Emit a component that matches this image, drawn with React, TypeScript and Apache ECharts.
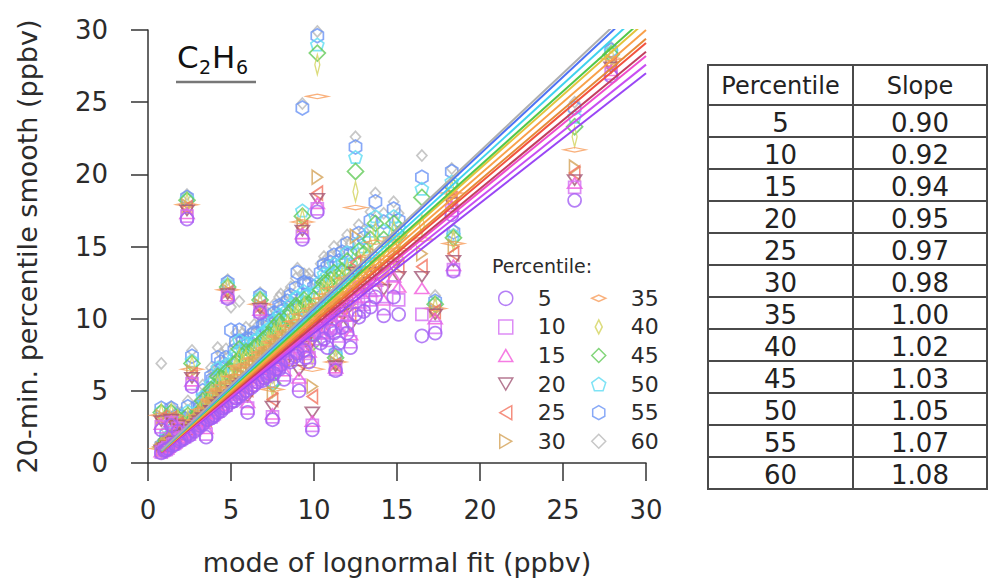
import { useEffect, useRef } from 'react';
import * as echarts from 'echarts';

// ---------- data ----------
const percentiles = ['5', '10', '15', '20', '25', '30', '35', '40', '45', '50', '55', '60'];
const slopes = [0.9, 0.92, 0.94, 0.95, 0.97, 0.98, 1.0, 1.02, 1.03, 1.05, 1.07, 1.08];
const fitStartX = 0.8;
const fitEndX = 30;

// mode of lognormal fit (x) for each sampling window
const siteX = [
  0.8, 0.8, 1.0, 1.2, 1.4, 1.5, 1.8, 1.9, 2.2, 2.35,
  2.5, 2.65, 2.8, 3.0, 3.1, 3.5, 3.6, 3.9, 4.0, 4.2,
  4.5, 4.8, 5.0, 5.3, 5.5, 5.9, 6.0, 6.2, 6.6, 6.75,
  7.0, 7.3, 7.5, 7.7, 8.0, 8.2, 8.4, 9.0, 9.1, 9.3,
  9.5, 9.7, 9.9, 10.0, 10.2, 10.4, 10.8, 11.0, 11.3, 11.5,
  11.7, 12.0, 12.2, 12.5, 13.0, 13.7, 14.2, 14.8, 15.1, 16.5,
  17.3, 18.3, 18.4, 25.7, 27.9,
  1.1, 1.6, 2.0, 2.4, 3.3, 3.8, 4.4, 4.7, 5.2, 5.7,
  6.4, 6.9, 7.2, 7.6, 7.9, 8.6, 8.9, 9.4, 10.6, 11.2,
  12.7, 13.4,
];

// 20-min percentile smooth (y) for each percentile
const p5 = [
  0.7, 2.3, 0.85, 1.0, 2.6, 1.2, 2.2, 1.5, 1.7, 16.9,
  1.9, 5.3, 2.2, 2.4, 2.6, 1.8, 3.0, 3.2, 3.3, 3.5,
  3.8, 11.4, 4.2, 4.5, 4.6, 5.0, 3.5, 5.2, 5.6, 10.4,
  5.9, 6.2, 3.0, 6.5, 6.8, 5.8, 7.1, 7.6, 5.0, 15.5,
  7.3, 7.0, 2.3, 8.9, 17.4, 8.3, 8.0, 9.2, 6.4, 8.3,
  9.4, 9.0, 8.0, 10.3, 10.5, 11.5, 10.2, 11.5, 10.3, 8.8,
  9.0, 17.2, 13.3, 18.2, 26.8,
  0.9, 1.3, 1.6, 2.0, 2.7, 3.1, 3.6, 3.9, 4.3, 4.8,
  5.4, 5.7, 6.0, 6.2, 6.5, 7.0, 7.4, 7.8, 8.6, 9.0,
  10.1, 10.8,
];
const p10 = [
  0.75, 2.5, 0.9, 1.05, 2.8, 1.3, 2.4, 1.6, 1.8, 17.1,
  2.0, 5.5, 2.3, 2.5, 2.7, 2.0, 3.1, 3.3, 3.4, 3.6,
  3.9, 11.5, 4.3, 4.6, 4.8, 5.2, 3.8, 5.4, 5.8, 10.5,
  6.1, 6.4, 3.2, 6.7, 7.0, 6.1, 7.3, 7.9, 5.4, 15.7,
  7.6, 7.3, 2.6, 9.2, 17.6, 8.6, 8.5, 9.5, 6.5, 8.8,
  9.8, 9.5, 8.4, 11.2, 11.0, 12.0, 10.7, 12.2, 11.3, 10.3,
  9.4, 17.5, 13.4, 19.1, 27.0,
  0.95, 1.35, 1.7, 2.1, 2.8, 3.2, 3.8, 4.0, 4.5, 5.0,
  5.6, 5.9, 6.2, 6.5, 6.8, 7.3, 7.7, 8.1, 9.0, 9.4,
  10.6, 11.3,
];
const p15 = [
  0.8, 2.7, 0.95, 1.1, 2.9, 1.35, 2.5, 1.7, 1.9, 17.3,
  2.1, 5.7, 2.4, 2.6, 2.8, 2.4, 3.2, 3.4, 3.5, 3.8,
  4.0, 11.6, 4.5, 4.8, 5.0, 5.4, 4.2, 5.6, 6.0, 10.6,
  6.3, 6.6, 3.4, 6.9, 7.3, 6.4, 7.6, 8.2, 5.9, 15.9,
  8.0, 7.7, 2.9, 9.5, 18.0, 9.0, 9.0, 9.9, 6.6, 9.3,
  10.2, 10.2, 8.9, 12.3, 11.5, 12.6, 11.3, 12.9, 12.2, 12.1,
  10.0, 17.8, 13.7, 19.4, 27.2,
  1.0, 1.4, 1.8, 2.2, 2.9, 3.4, 4.0, 4.2, 4.7, 5.2,
  5.9, 6.2, 6.5, 6.8, 7.1, 7.7, 8.0, 8.5, 9.4, 9.9,
  11.1, 11.9,
];
const p20 = [
  0.85, 2.9, 1.0, 1.15, 3.0, 1.4, 2.6, 1.75, 2.0, 17.5,
  2.2, 5.9, 2.5, 2.7, 2.9, 2.8, 3.3, 3.6, 3.6, 4.0,
  4.2, 11.7, 4.7, 5.0, 5.3, 5.6, 4.6, 5.9, 6.3, 10.7,
  6.6, 6.9, 3.9, 7.2, 7.6, 6.8, 7.9, 8.5, 6.4, 16.1,
  8.4, 8.1, 3.5, 9.8, 18.3, 9.5, 9.6, 10.3, 6.7, 9.8,
  10.7, 10.9, 9.5, 13.2, 12.0, 13.2, 12.0, 13.6, 12.9, 12.9,
  10.3, 18.0, 14.0, 19.6, 27.4,
  1.05, 1.5, 1.9, 2.3, 3.1, 3.6, 4.2, 4.5, 5.0, 5.5,
  6.1, 6.5, 6.8, 7.1, 7.5, 8.1, 8.4, 8.9, 9.9, 10.4,
  11.7, 12.5,
];
const p25 = [
  0.9, 3.1, 1.05, 1.2, 3.1, 1.5, 2.7, 1.8, 2.1, 17.7,
  2.3, 6.1, 2.6, 2.8, 3.0, 3.0, 3.5, 3.8, 3.8, 4.2,
  4.4, 11.8, 5.0, 5.3, 5.7, 5.9, 5.1, 6.2, 6.6, 10.8,
  6.9, 7.2, 4.4, 7.5, 7.9, 7.2, 8.3, 8.9, 7.0, 16.3,
  8.9, 8.6, 4.6, 10.1, 18.7, 10.0, 10.2, 10.8, 6.8, 10.4,
  11.2, 11.6, 10.3, 13.9, 12.5, 13.8, 12.7, 14.3, 13.6, 13.6,
  10.5, 18.3, 14.5, 20.1, 27.6,
  1.1, 1.6, 2.0, 2.4, 3.3, 3.8, 4.5, 4.8, 5.3, 5.8,
  6.4, 6.9, 7.1, 7.5, 7.9, 8.5, 8.8, 9.3, 10.4, 11.0,
  12.3, 13.1,
];
const p30 = [
  0.95, 3.2, 1.1, 1.3, 3.2, 1.55, 2.8, 1.9, 2.2, 17.8,
  2.45, 6.3, 2.8, 2.9, 3.1, 3.3, 3.6, 4.0, 4.0, 4.5,
  4.7, 11.9, 5.3, 5.6, 6.1, 6.3, 5.6, 6.5, 6.9, 10.9,
  7.3, 7.6, 4.8, 7.9, 8.3, 7.7, 8.7, 9.3, 7.6, 16.5,
  9.4, 9.2, 5.3, 10.4, 19.8, 10.5, 10.8, 11.2, 6.9, 11.0,
  11.7, 12.2, 11.0, 15.7, 13.0, 14.4, 13.5, 15.0, 14.2, 14.5,
  10.6, 18.5, 15.0, 20.5, 27.8,
  1.2, 1.7, 2.1, 2.6, 3.5, 4.1, 4.8, 5.1, 5.6, 6.1,
  6.8, 7.2, 7.5, 7.9, 8.3, 9.0, 9.3, 9.8, 10.9, 11.5,
  12.9, 13.7,
];
const p35 = [
  1.0, 3.3, 1.15, 1.35, 3.3, 1.6, 2.9, 2.0, 2.3, 17.9,
  2.55, 6.5, 2.9, 3.0, 3.3, 3.5, 3.8, 4.3, 4.2, 4.9,
  5.0, 12.0, 5.6, 6.0, 6.7, 6.7, 6.1, 6.9, 7.3, 11.0,
  7.7, 8.0, 5.1, 8.3, 8.7, 8.2, 9.1, 9.8, 8.2, 16.7,
  9.9, 9.8, 6.5, 10.7, 25.4, 11.0, 11.4, 11.7, 7.0, 11.6,
  12.2, 12.8, 11.8, 17.7, 13.5, 15.3, 14.2, 15.6, 14.8, 15.5,
  10.7, 18.7, 15.2, 21.7, 28.0,
  1.3, 1.8, 2.3, 2.8, 3.7, 4.4, 5.1, 5.4, 6.0, 6.5,
  7.2, 7.6, 7.9, 8.4, 8.8, 9.5, 9.8, 10.3, 11.4, 12.1,
  13.5, 14.3,
];
const p40 = [
  1.05, 3.4, 1.2, 1.4, 3.4, 1.7, 3.0, 2.1, 2.4, 18.0,
  2.65, 6.7, 3.0, 3.2, 3.4, 3.8, 4.0, 4.6, 4.5, 5.4,
  5.4, 12.1, 6.0, 6.5, 7.3, 7.2, 6.6, 7.3, 7.7, 11.1,
  8.1, 8.4, 5.3, 8.7, 9.1, 8.7, 9.6, 10.3, 8.8, 16.9,
  10.5, 10.4, 7.5, 11.0, 27.6, 11.5, 11.9, 12.2, 7.1, 12.2,
  12.8, 13.4, 12.5, 18.8, 14.0, 16.0, 14.9, 16.1, 15.3, 16.5,
  10.8, 18.9, 15.4, 22.6, 28.2,
  1.4, 1.9, 2.5, 3.0, 4.0, 4.7, 5.5, 5.8, 6.4, 6.9,
  7.6, 8.0, 8.3, 8.9, 9.3, 10.0, 10.3, 10.8, 12.0, 12.6,
  14.1, 14.9,
];
const p45 = [
  1.1, 3.5, 1.3, 1.5, 3.5, 1.8, 3.1, 2.2, 2.5, 18.2,
  2.8, 6.9, 3.1, 3.4, 3.5, 4.0, 4.2, 5.0, 4.8, 6.0,
  5.8, 12.2, 6.4, 7.0, 7.9, 7.7, 7.1, 7.7, 8.1, 11.3,
  8.6, 8.9, 5.5, 9.1, 9.6, 9.3, 10.1, 10.8, 9.4, 17.1,
  11.0, 11.0, 8.3, 11.4, 28.4, 12.0, 12.5, 12.7, 7.3, 12.8,
  13.3, 14.0, 13.2, 20.2, 14.5, 16.6, 15.5, 16.6, 15.8, 18.4,
  11.0, 19.2, 15.6, 23.3, 28.3,
  1.6, 2.0, 2.7, 3.3, 4.3, 5.1, 5.9, 6.3, 6.8, 7.4,
  8.0, 8.5, 8.8, 9.4, 9.8, 10.5, 10.9, 11.3, 12.5, 13.2,
  14.7, 15.5,
];
const p50 = [
  1.15, 3.6, 1.35, 1.6, 3.6, 1.85, 3.2, 2.3, 2.6, 18.3,
  2.9, 7.1, 3.2, 3.6, 3.6, 4.3, 4.4, 5.3, 5.2, 6.6,
  6.2, 12.4, 6.9, 7.6, 8.5, 8.3, 7.6, 8.1, 8.6, 11.5,
  9.1, 9.3, 5.6, 9.6, 10.1, 9.9, 10.6, 11.5, 10.0, 17.5,
  11.6, 11.7, 9.0, 11.8, 29.0, 12.6, 13.0, 13.2, 7.5, 13.4,
  13.9, 14.6, 13.8, 21.2, 15.0, 17.1, 16.1, 17.1, 16.3, 19.0,
  11.1, 19.5, 15.8, 24.0, 28.5,
  1.8, 2.2, 2.9, 3.6, 4.6, 5.5, 6.4, 6.8, 7.3, 7.9,
  8.5, 9.0, 9.3, 9.9, 10.3, 11.0, 11.5, 11.9, 13.1, 13.8,
  15.3, 16.1,
];
const p55 = [
  1.2, 3.8, 1.4, 1.7, 3.8, 1.9, 3.3, 2.4, 2.7, 18.4,
  3.0, 7.4, 3.3, 3.9, 3.8, 4.6, 4.6, 5.8, 5.7, 7.3,
  6.6, 12.5, 9.2, 8.4, 9.2, 8.6, 8.2, 8.6, 9.0, 11.6,
  9.6, 9.8, 5.7, 10.0, 10.8, 10.6, 11.2, 13.2, 10.7, 24.6,
  12.4, 12.4, 9.8, 12.2, 29.6, 13.2, 13.6, 13.9, 7.6, 14.0,
  14.6, 15.2, 14.5, 21.9, 15.6, 18.1, 16.7, 17.6, 16.8, 19.8,
  11.2, 20.2, 16.0, 24.6, 28.6,
  2.0, 2.4, 3.2, 3.9, 5.0, 6.0, 7.0, 7.3, 7.8, 8.4,
  9.0, 9.5, 9.8, 10.4, 10.9, 11.6, 12.1, 12.5, 13.7, 14.4,
  15.9, 16.8,
];
const p60 = [
  1.3, 6.9, 1.5, 1.8, 3.9, 2.0, 3.5, 2.6, 2.8, 18.6,
  3.1, 7.8, 3.4, 4.2, 4.0, 5.0, 5.0, 6.3, 6.4, 8.0,
  7.0, 12.7, 10.8, 9.0, 11.2, 9.4, 8.8, 9.0, 9.5, 11.8,
  10.1, 10.3, 5.9, 10.5, 11.7, 11.3, 11.8, 13.5, 11.4, 24.9,
  13.0, 13.1, 10.5, 12.7, 29.9, 13.8, 14.2, 14.3, 7.8, 14.6,
  15.2, 15.8, 15.2, 22.6, 16.1, 18.7, 17.3, 18.1, 17.3, 21.3,
  11.6, 20.4, 16.2, 25.0, 28.8,
  2.3, 2.7, 3.5, 4.3, 5.4, 6.6, 7.6, 7.9, 8.3, 9.0,
  9.6, 10.0, 10.4, 11.0, 11.5, 12.2, 12.8, 13.1, 14.3, 15.0,
  16.5, 17.4,
];
const seriesY = [p5, p10, p15, p20, p25, p30, p35, p40, p45, p50, p55, p60];

// ---------- styles ----------
const FONT = 'DejaVu Sans';
const INK = '#2b2b2b';
const markerColors = [
  '#a25ff4', '#d56ff2', '#f35bdc', '#a35877', '#f3735f', '#d5a258',
  '#f89d5c', '#d3d35c', '#63cb59', '#5fdcf3', '#6a94f5', '#b9b9b9',
];
const lineColors = [
  '#9a46f5', '#c94ef2', '#f04ccd', '#c23f5e', '#f2533f', '#e68a38',
  '#f9a04a', '#e3c43c', '#52c84a', '#3fd2ee', '#4d72f5', '#afafaf',
];
const TRI_UP = 'path://M7,0 L14,12 L0,12 Z';
const TRI_DOWN = 'path://M0,0 L14,0 L7,12 Z';
const TRI_LEFT = 'path://M12,0 L12,14 L0,7 Z';
const TRI_RIGHT = 'path://M0,0 L12,7 L0,14 Z';
const PENTAGON = 'path://M10,0 L19.51,6.91 L15.88,18.09 L4.12,18.09 L0.49,6.91 Z';
const HEXAGON = 'path://M10,0 L18.66,5 L18.66,15 L10,20 L1.34,15 L1.34,5 Z';
const WIDE_DIAMOND = 'path://M0,5 L11,0 L22,5 L11,10 Z';
const TALL_DIAMOND = 'path://M5,0 L10,10 L5,20 L0,10 Z';
const markerShapes: { symbol: string; size: number | number[] }[] = [
  { symbol: 'circle', size: 13 },
  { symbol: 'rect', size: 12 },
  { symbol: TRI_UP, size: [14, 12] },
  { symbol: TRI_DOWN, size: [14, 12] },
  { symbol: TRI_LEFT, size: [12, 14] },
  { symbol: TRI_RIGHT, size: [12, 14] },
  { symbol: WIDE_DIAMOND, size: [22, 10] },
  { symbol: TALL_DIAMOND, size: [10, 20] },
  { symbol: 'diamond', size: [16, 16] },
  { symbol: PENTAGON, size: 13 },
  { symbol: HEXAGON, size: 14 },
  { symbol: 'diamond', size: [10, 11] },
];

// table layout
const T_LEFT = 708;
const T_RIGHT = 987;
const T_MID = 853;
const T_TOP = 65;
const T_HEAD = 40;
const T_ROW = 32;

function buildTable(): any[] {
  const els: any[] = [];
  const bottom = T_TOP + T_HEAD + T_ROW * percentiles.length;
  const stroke = { stroke: '#4a4a4a', lineWidth: 2 };
  els.push({ type: 'rect', shape: { x: T_LEFT, y: T_TOP, width: T_RIGHT - T_LEFT, height: bottom - T_TOP }, style: { fill: 'none', ...stroke } });
  els.push({ type: 'line', shape: { x1: T_MID, y1: T_TOP, x2: T_MID, y2: bottom }, style: stroke });
  for (let i = 0; i < percentiles.length; i++) {
    const y = T_TOP + T_HEAD + T_ROW * i;
    els.push({ type: 'line', shape: { x1: T_LEFT, y1: y, x2: T_RIGHT, y2: y }, style: stroke });
  }
  const txt = (s: string, x: number, y: number, size: number) => ({
    type: 'text', x, y,
    style: { text: s, fontSize: size, fontFamily: FONT, fill: '#222', align: 'center', verticalAlign: 'middle' },
  });
  els.push(txt('Percentile', (T_LEFT + T_MID) / 2, T_TOP + T_HEAD / 2 + 1, 24));
  els.push(txt('Slope', (T_MID + T_RIGHT) / 2, T_TOP + T_HEAD / 2 + 1, 24));
  percentiles.forEach((p, i) => {
    const cy = T_TOP + T_HEAD + T_ROW * i + T_ROW / 2 + 2;
    els.push(txt(p, (T_LEFT + T_MID) / 2, cy, 26));
    els.push(txt(slopes[i].toFixed(2), (T_MID + T_RIGHT) / 2, cy, 26));
  });
  return els;
}

function buildTitle(): any[] {
  const big = { fontSize: 31, fontFamily: FONT, fill: '#111', verticalAlign: 'middle' };
  const small = { fontSize: 19, fontFamily: FONT, fill: '#111', verticalAlign: 'middle' };
  return [
    { type: 'text', x: 177, y: 57, style: { text: 'C', ...big } },
    { type: 'text', x: 199, y: 67, style: { text: '2', ...small } },
    { type: 'text', x: 212, y: 57, style: { text: 'H', ...big } },
    { type: 'text', x: 236, y: 67, style: { text: '6', ...small } },
    { type: 'line', shape: { x1: 176, y1: 82, x2: 256, y2: 82 }, style: { stroke: '#777', lineWidth: 2.5 } },
  ];
}

function buildOption(): any {
  const scatter = seriesY.map((ys, k) => ({
    name: percentiles[k],
    type: 'scatter',
    data: siteX.map((x, i) => [x, ys[i]]),
    symbol: markerShapes[k].symbol,
    symbolSize: markerShapes[k].size,
    symbolKeepAspect: true,
    itemStyle: { color: 'rgba(0,0,0,0)', borderColor: markerColors[k], borderWidth: 1.7 },
    silent: true,
    z: 2,
  }));
  const fits = slopes.map((s, k) => ({
    name: 'fit ' + percentiles[k],
    type: 'line',
    data: [[fitStartX, fitStartX * s], [fitEndX, fitEndX * s]],
    showSymbol: false,
    symbol: 'none',
    lineStyle: { color: lineColors[k], width: 2 },
    silent: true,
    clip: true,
    z: 3,
  }));
  const legendCommon = {
    orient: 'vertical',
    top: 279,
    itemWidth: 14,
    itemHeight: 14,
    itemGap: 0,
    selectedMode: false,
    itemStyle: { borderWidth: 1.5 },
    textStyle: { fontSize: 22, color: INK, fontFamily: FONT, lineHeight: 28.6, padding: [0, 0, 0, 20] },
  };
  return {
    animation: false,
    backgroundColor: '#fff',
    grid: { left: 148, right: 342, top: 30, bottom: 115, outerBoundsMode: 'none', containLabel: false },
    xAxis: {
      type: 'value', min: 0, max: 30, interval: 5, offset: 2,
      axisLine: { show: true, lineStyle: { color: '#333', width: 1.5 } },
      axisTick: { show: true, length: 18, lineStyle: { color: '#333', width: 1.5 } },
      axisLabel: { margin: 32, fontSize: 26, color: INK, fontFamily: FONT },
      splitLine: { show: false },
      name: 'mode of lognormal fit (ppbv)', nameLocation: 'middle', nameGap: 84,
      nameTextStyle: { fontSize: 27, color: INK, fontFamily: FONT },
    },
    yAxis: {
      type: 'value', min: 0, max: 30, interval: 5, offset: 11,
      axisLine: { show: true, lineStyle: { color: '#333', width: 1.5 } },
      axisTick: { show: true, length: 17, lineStyle: { color: '#333', width: 1.5 } },
      axisLabel: { margin: 29, fontSize: 26, color: INK, fontFamily: FONT },
      splitLine: { show: false },
      name: '20-min. percentile smooth (ppbv)', nameLocation: 'middle', nameGap: 96,
      nameTextStyle: { fontSize: 27, color: INK, fontFamily: FONT },
    },
    legend: [
      { ...legendCommon, left: 493, data: percentiles.slice(0, 6) },
      { ...legendCommon, left: 586, data: percentiles.slice(6) },
    ],
    graphic: [
      ...buildTitle(),
      { type: 'text', x: 492, y: 266, style: { text: 'Percentile:', fontSize: 19, fontFamily: FONT, fill: INK, verticalAlign: 'middle' } },
      ...buildTable(),
    ],
    // higher percentiles drawn first so the 5th percentile sits on top
    series: [...scatter.slice().reverse(), ...fits],
  };
}

export default function App() {
  const ref = useRef<HTMLDivElement>(null);
  useEffect(() => {
    if (!ref.current) return;
    const chart = echarts.init(ref.current, null, { renderer: 'svg' });
    chart.setOption(buildOption());
    return () => chart.dispose();
  }, []);
  return (
    <div
      ref={ref}
      style={{ position: 'fixed', left: 0, top: 0, width: 988, height: 578, background: '#fff' }}
    />
  );
}
